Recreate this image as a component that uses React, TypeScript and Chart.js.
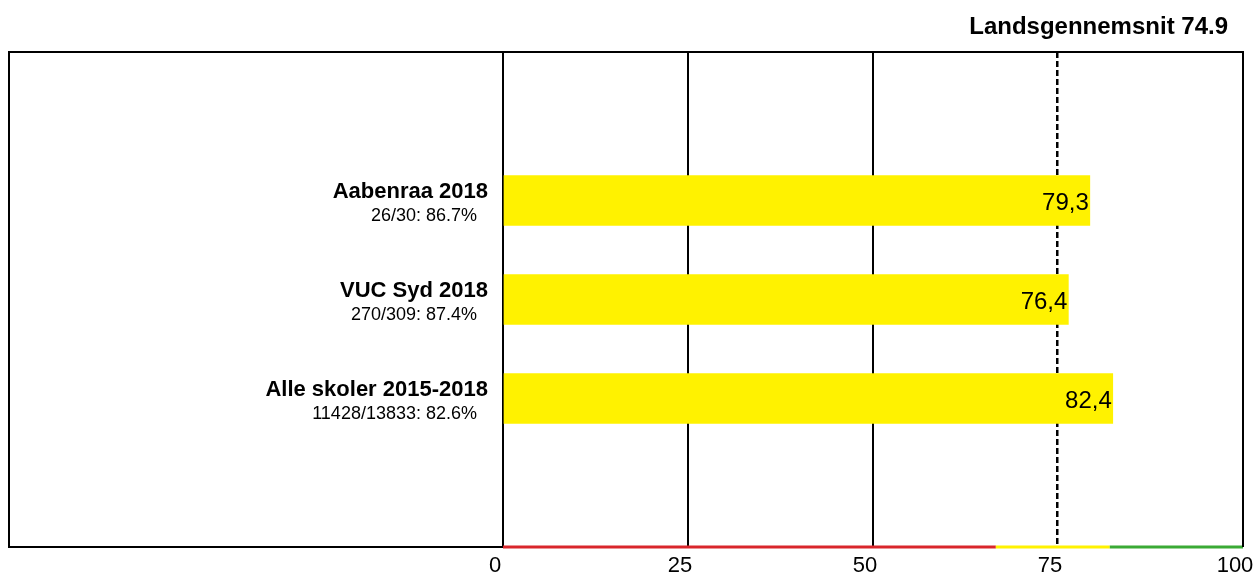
import React, { useEffect, useRef } from "react";
import { Chart, registerables } from "chart.js";

Chart.register(...registerables);

const categories = ["Aabenraa 2018", "VUC Syd 2018", "Alle skoler 2015-2018"];
const subLabels = ["26/30: 86.7%", "270/309: 87.4%", "11428/13833: 82.6%"];
const values = [79.3, 76.4, 82.4];
const nationalAverage = 74.9;
const titleText = "Landsgennemsnit 74.9";
const xMin = 0;
const xMax = 100;
const xStep = 25;
const bandLimits = [0, 66.6, 82, 100];
const bandColors = ["#d9262b", "#fff200", "#3aaa35"];

const FONT = "'Liberation Sans', Arial, Helvetica, sans-serif";
const W = 1255;
const H = 577;

export default function App() {
  const ref = useRef<HTMLCanvasElement | null>(null);

  useEffect(() => {
    const canvas = ref.current;
    if (!canvas) return;

    const labels = ["", ...categories, ""];
    const data = [null, ...values, null];

    const overlay = {
      id: "overlay",
      beforeDatasetsDraw(chart: any) {
        const { ctx, chartArea: a, scales } = chart;
        const x = scales.x;
        ctx.save();
        const ax = x.getPixelForValue(nationalAverage);
        ctx.strokeStyle = "#000";
        ctx.lineWidth = 2.5;
        ctx.setLineDash([6, 3]);
        ctx.beginPath();
        ctx.moveTo(ax, a.top);
        ctx.lineTo(ax, a.bottom);
        ctx.stroke();
        ctx.setLineDash([]);
        ctx.lineWidth = 3;
        for (let i = 0; i < bandColors.length; i++) {
          ctx.strokeStyle = bandColors[i];
          ctx.beginPath();
          ctx.moveTo(x.getPixelForValue(bandLimits[i]), a.bottom);
          ctx.lineTo(x.getPixelForValue(bandLimits[i + 1]), a.bottom);
          ctx.stroke();
        }
        ctx.restore();
      },
      afterDatasetsDraw(chart: any) {
        const { ctx } = chart;
        const meta = chart.getDatasetMeta(0);
        ctx.save();
        ctx.fillStyle = "#000";
        ctx.font = `24px ${FONT}`;
        ctx.textAlign = "right";
        ctx.textBaseline = "alphabetic";
        meta.data.forEach((bar: any, i: number) => {
          const v = data[i];
          if (v == null) return;
          ctx.fillText(v.toFixed(1).replace(".", ","), bar.x - 1, bar.y + 9);
        });
        ctx.restore();
      },
      afterDraw(chart: any) {
        const { ctx, chartArea: a, scales } = chart;
        const y = scales.y;
        ctx.save();
        ctx.strokeStyle = "#000";
        ctx.lineWidth = 2;
        ctx.beginPath();
        ctx.moveTo(a.left, a.top);
        ctx.lineTo(9, a.top);
        ctx.lineTo(9, a.bottom);
        ctx.lineTo(a.left, a.bottom);
        ctx.stroke();
        ctx.beginPath();
        ctx.moveTo(a.left, a.top);
        ctx.lineTo(a.right, a.top);
        ctx.lineTo(a.right, a.bottom);
        ctx.stroke();
        ctx.fillStyle = "#000";
        ctx.textAlign = "right";
        ctx.textBaseline = "alphabetic";
        ctx.font = `bold 24px ${FONT}`;
        ctx.fillText(titleText, 1228, 34);
        categories.forEach((c, i) => {
          const cy = y.getPixelForValue(i + 1);
          ctx.font = `bold 22px ${FONT}`;
          ctx.fillText(c, 488, cy - 3);
          ctx.font = `18px ${FONT}`;
          ctx.fillText(subLabels[i], 477, cy + 20);
        });
        ctx.restore();
      },
    };

    const chart = new Chart(canvas, {
      type: "bar",
      data: {
        labels,
        datasets: [
          {
            data,
            backgroundColor: "#fff200",
            borderWidth: 0,
            barThickness: 50,
          },
        ],
      },
      options: {
        indexAxis: "y",
        responsive: false,
        animation: false,
        devicePixelRatio: 1,
        layout: { padding: { left: 503, right: 12, top: 52, bottom: 0 } },
        plugins: {
          legend: { display: false },
          tooltip: { enabled: false },
          title: { display: false },
        },
        scales: {
          y: { display: false },
          x: {
            min: xMin,
            max: xMax,
            afterFit: (scale: any) => {
              scale.height = 30;
              scale.paddingLeft = 0;
              scale.paddingRight = 0;
            },
            ticks: {
              stepSize: xStep,
              autoSkip: false,
              maxRotation: 0,
              padding: 6,
              labelOffset: -8,
              color: "#000",
              font: { family: FONT, size: 22 },
            },
            grid: {
              drawTicks: false,
              lineWidth: 2,
              color: (c: any) => (c.tick && c.tick.value === 75 ? "rgba(0,0,0,0)" : "#000"),
            },
            border: { display: false },
          },
        },
      },
      plugins: [overlay],
    } as any);

    return () => chart.destroy();
  }, []);

  return (
    <canvas
      ref={ref}
      width={W}
      height={H}
      style={{ position: "fixed", left: 0, top: 0, display: "block", width: W + "px", height: H + "px" }}
    />
  );
}
